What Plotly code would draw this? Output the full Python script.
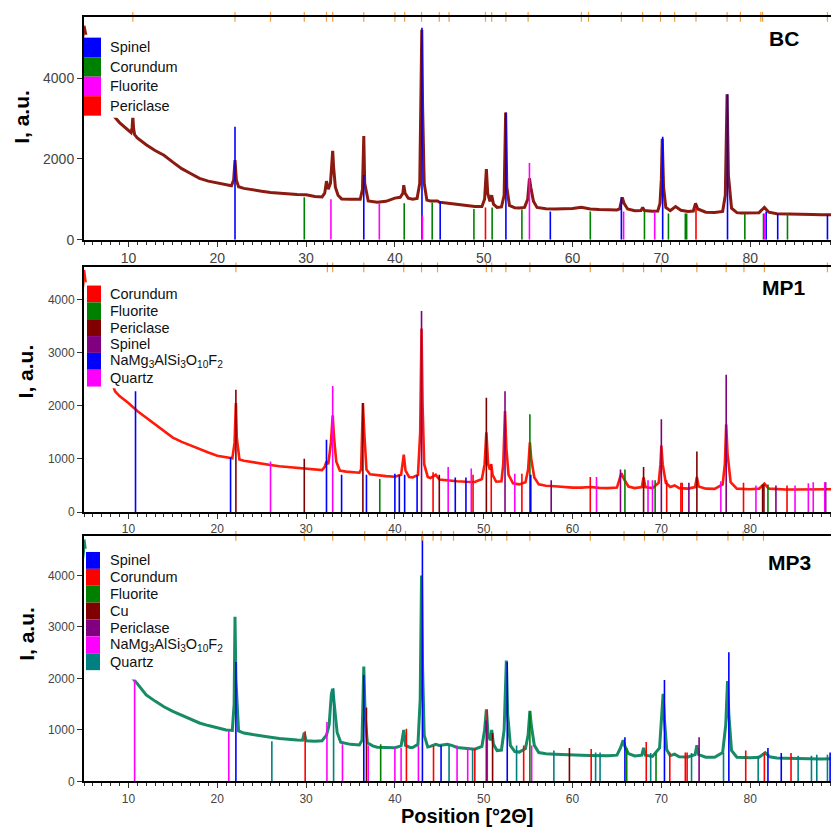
import plotly.graph_objects as go

W, H = 831, 835

# ---------------- DATA ----------------
bc_x = [5.0, 5.5, 6, 7, 8, 9, 10, 10.3, 10.42, 10.5, 10.58, 10.7, 11, 12, 13, 14, 15, 16, 17, 18, 19, 20, 21,
        21.6, 21.85, 22.0, 22.15, 22.4, 23, 24, 25, 26, 27, 28, 29, 30, 31,
        31.8, 32.1, 32.3, 32.5, 32.75, 32.9, 33.0, 33.1, 33.3, 33.6, 34.0, 35,
        36.1, 36.35, 36.5, 36.6, 36.9, 37, 38, 39, 40,
        40.6, 40.9, 41.0, 41.15, 41.5, 42,
        42.5, 42.8, 42.95, 43.03, 43.12, 43.3, 43.6, 44, 44.8, 45, 46, 47, 48, 49,
        49.8, 50.1, 50.3, 50.45, 50.7, 50.9, 51.1, 51.5,
        52.0, 52.3, 52.47, 52.6, 52.9, 53.5, 54,
        54.6, 54.95, 55.15, 55.3, 55.6, 56.0, 57, 58, 59, 60, 61, 62, 63, 64, 65,
        65.3, 65.5, 65.6, 65.8, 66.2, 67, 67.7, 67.9, 68.1, 69, 69.6,
        69.85, 70.0, 70.1, 70.25, 70.5, 71, 71.6, 72.2, 73,
        73.6, 73.85, 74.1, 75, 76, 76.9, 77.2, 77.4, 77.55, 77.9, 78.5, 79, 80, 81, 81.6, 82.1,
        83, 84, 85, 86, 87, 88, 89.1]
bc_y = [5300, 4700, 4200, 3600, 3150, 2900, 2700, 2650, 2780, 3050, 2760, 2600, 2520, 2350, 2210, 2090, 1920, 1760, 1640, 1520, 1450, 1400, 1350,
        1335, 1480, 1970, 1480, 1310, 1270, 1230, 1200, 1170, 1150, 1130, 1120, 1110, 1070,
        1060, 1150, 1450, 1250, 1400, 1800, 2200, 1800, 1300, 1100, 1010, 1000,
        1000, 1250, 2570, 1400, 1000, 960, 930, 950, 1030,
        1050, 1150, 1350, 1150, 1030, 1000,
        1020, 1400, 3500, 5200, 3300, 1400, 980, 960, 960, 930, 900, 870, 840, 820,
        820, 1000, 1750, 1150, 950, 1100, 880, 800,
        810, 1100, 3150, 1300, 850, 790, 785,
        800, 1000, 1520, 1300, 950, 800, 765, 760, 760, 770, 800, 760, 745, 740, 735,
        760, 1000, 1050, 900, 760, 715, 720, 800, 720, 705, 710,
        900, 1500, 2500, 1300, 800, 720, 820, 730, 700,
        710, 900, 760, 680, 675, 700, 1100, 3600, 1600, 780, 670, 662, 660, 670, 800, 680,
        645, 635, 630, 625, 622, 620, 615]

mp1_x = [5, 5.5, 6, 7, 8, 8.5, 9, 10, 11, 12, 13, 14, 15, 16, 17, 18, 19, 20, 21,
         21.7, 21.95, 22.1, 22.2, 22.5, 23, 24, 25, 26, 27, 28, 29, 30, 31,
         31.8, 32.1, 32.3, 32.5, 32.8, 33.0, 33.15, 33.4, 33.8, 34.5, 35, 36,
         36.2, 36.4, 36.55, 36.8, 37.2, 38, 39, 40, 40.7, 41.0, 41.2, 41.6, 42,
         42.6, 42.85, 43.0, 43.12, 43.3, 43.7, 44, 44.6, 45, 46, 47, 48, 49,
         49.8, 50.1, 50.3, 50.5, 50.7, 50.85, 51.0, 51.4, 52, 52.2, 52.4, 52.55, 52.8, 53.3, 54,
         54.7, 55.0, 55.2, 55.35, 55.7, 56.2, 57, 58, 59, 60, 61, 62, 63, 64, 65,
         65.3, 65.5, 65.8, 66.3, 67, 67.8, 68.0, 68.2, 69,
         69.7, 69.9, 70.0, 70.15, 70.5, 71, 71.5, 72, 73, 73.8, 74.0, 74.2, 75, 76,
         76.9, 77.15, 77.3, 77.45, 77.8, 78.5, 79, 80, 81, 81.6, 82.1, 83, 84, 85, 86, 87, 88, 89.1]
mp1_y = [4550, 3900, 3500, 2950, 2500, 2270, 2180, 2050, 1900, 1775, 1640, 1510, 1400, 1320, 1250, 1185, 1120, 1060, 1030,
         1010, 1300, 2050, 1400, 990, 965, 935, 905, 885, 860, 845, 825, 810, 795,
         790, 850, 950, 900, 1300, 1820, 1400, 950, 780, 760, 750, 740,
         800, 2050, 1500, 800, 710, 690, 675, 665, 700, 1080, 780, 660, 650,
         700, 1500, 3450, 2000, 900, 660, 640, 700, 610, 590, 580, 570, 565,
         620, 900, 1500, 900, 800, 900, 700, 570, 580, 900, 1900, 1200, 700, 540, 520,
         560, 800, 1310, 1000, 650, 520, 495, 485, 470, 460, 460, 470, 455, 450, 460,
         600, 730, 620, 480, 450, 470, 650, 470, 450,
         550, 900, 1250, 900, 550, 470, 500, 450, 440, 470, 660, 480, 440, 435,
         520, 900, 1650, 1100, 560, 440, 432, 428, 440, 535, 440, 430, 425, 425, 425, 425, 430, 430]

mp3_x = [5, 5.5, 6, 7, 8, 9, 10, 10.5, 11, 12, 13, 14, 15, 16, 17, 18, 19, 20, 21,
         21.7, 21.9, 22.0, 22.1, 22.4, 23, 24, 25, 26, 27, 28, 29, 29.6, 29.8, 30.0, 31,
         31.8, 32.1, 32.3, 32.6, 32.85, 33.0, 33.2, 33.5, 33.9, 35, 36,
         36.3, 36.5, 36.65, 36.9, 37.5, 38, 39, 40, 40.7, 41.0, 41.2, 41.7, 42,
         42.6, 42.85, 43.0, 43.12, 43.3, 43.7, 44, 44.6, 45, 45.9, 46.4, 47, 48, 49,
         49.8, 50.1, 50.3, 50.5, 50.75, 50.9, 51.1, 51.5, 52, 52.3, 52.55, 52.7, 53.0, 53.5, 54,
         54.7, 55.0, 55.2, 55.35, 55.7, 56.2, 57, 58, 59, 60, 61, 62, 63, 64, 65,
         65.4, 65.7, 65.9, 66.3, 67, 67.8, 68.0, 68.2, 69,
         69.8, 70.05, 70.2, 70.35, 70.6, 71, 71.5, 72, 73, 73.8, 74.0, 74.2, 75, 76,
         76.9, 77.25, 77.45, 77.6, 77.9, 78.5, 79, 80, 81, 81.7, 82.2, 83, 84, 85, 86, 87, 88, 89.1]
mp3_y = [4700, 4000, 3500, 2900, 2500, 2250, 2080, 2000, 1900, 1680, 1560, 1450, 1360, 1280, 1200, 1135, 1085, 1040, 1000,
         990, 1500, 3200, 2000, 980, 940, 910, 880, 860, 835, 815, 805, 800, 950, 790, 780,
         790, 850, 900, 1100, 1700, 1800, 1400, 950, 760, 720, 710,
         800, 2230, 1300, 750, 690, 665, 660, 655, 690, 1000, 700, 660, 660,
         720, 1600, 4000, 2200, 900, 670, 680, 720, 700, 720, 700, 660, 640, 625,
         680, 1000, 1400, 900, 800, 1000, 720, 600, 610, 1000, 2350, 1300, 700, 580, 570,
         640, 900, 1370, 1100, 700, 560, 540, 530, 520, 515, 510, 505, 500, 500, 510,
         650, 800, 680, 540, 495, 510, 650, 510, 485,
         650, 1200, 1700, 1200, 620, 500, 530, 480, 475, 520, 700, 520, 470, 470,
         560, 1100, 1950, 1300, 600, 470, 465, 460, 470, 560, 480, 455, 450, 445, 440, 440, 435, 440]

# Reference stick patterns (position, intensity) per phase
bc_phases = ["Spinel", "Corundum", "Fluorite", "Periclase"]
bc_colors = ["#0000ff", "#008000", "#ff00ff", "#ff0000"]
bc_stick_pos = [
    [22.0, 36.5, 43.05, 45.1, 52.5, 57.5, 65.5, 70.15, 77.45, 81.8, 83.1, 88.7],
    [29.8, 41.05, 44.2, 48.9, 50.95, 54.3, 62.0, 68.1, 70.8, 72.7, 72.85, 79.4, 81.5, 84.2],
    [32.8, 38.25, 43.1, 55.15, 65.75, 69.25, 81.65],
    [50.2, 73.9],
]
bc_stick_int = [
    [2800, 1600, 5250, 950, 3150, 700, 1050, 2550, 3600, 700, 650, 620],
    [1050, 900, 920, 760, 800, 750, 700, 700, 650, 650, 650, 650, 650, 650],
    [1000, 900, 600, 1900, 700, 700, 650],
    [800, 780],
]

mp1_phases = ["Corundum", "Fluorite", "Periclase", "Spinel", "NaMg<sub>3</sub>AlSi<sub>3</sub>O<sub>10</sub>F<sub>2</sub>", "Quartz"]
mp1_colors = ["#ff0000", "#008000", "#800000", "#800080", "#0000ff", "#ff00ff"]
mp1_stick_pos = [
    [44.3, 48.8, 50.85, 54.3, 62.0, 70.6, 72.2, 72.35, 79.25, 84.15],
    [38.3, 55.2, 65.9, 69.3, 82.0],
    [22.1, 29.8, 36.4, 45.0, 50.3, 68.0, 74.0, 81.4, 81.55],
    [43.0, 52.4, 57.6, 65.4, 70.0, 73.1, 77.3, 82.9, 88.5],
    [10.8, 21.5, 32.3, 34.0, 36.8, 40.0, 40.5, 41.1, 42.5, 46.8, 48.0, 55.3],
    [26.0, 33.0, 46.0, 48.6, 53.5, 62.7, 68.5, 69.0, 76.7, 80.65, 85.05, 86.55, 87.1, 88.4],
]
mp1_stick_int = [
    [750, 700, 905, 720, 660, 600, 550, 550, 550, 500],
    [620, 1840, 800, 600, 520],
    [2300, 1000, 2050, 700, 2150, 845, 1140, 520, 520],
    [3780, 2270, 600, 800, 1745, 550, 2580, 500, 560],
    [2270, 1030, 1360, 700, 700, 720, 700, 700, 690, 650, 650, 700],
    [950, 2370, 845, 820, 720, 660, 600, 600, 580, 500, 500, 540, 560, 560],
]

mp3_phases = ["Spinel", "Corundum", "Fluorite", "Cu", "Periclase", "NaMg<sub>3</sub>AlSi<sub>3</sub>O<sub>10</sub>F<sub>2</sub>", "Quartz"]
mp3_colors = ["#0000ff", "#ff0000", "#008000", "#800000", "#800080", "#ff00ff", "#008080"]
mp3_stick_pos = [
    [22.1, 36.5, 43.1, 45.2, 50.3, 52.65, 65.9, 70.35, 77.6, 82.0, 83.5, 89.0],
    [29.9, 41.3, 44.35, 49.0, 50.4, 54.5, 62.1, 68.3, 70.95, 72.7, 72.9, 79.5, 81.6, 84.6],
    [38.4, 55.2, 66.1, 69.4],
    [36.8, 51.0, 59.65],
    [74.25],
    [10.7, 21.3, 32.35, 34.1, 37.0, 40.0, 40.7, 42.65, 47.0, 48.2, 55.4],
    [26.15, 33.1, 46.1, 48.75, 53.7, 57.9, 62.6, 63.1, 68.8, 73.4, 77.0, 80.9, 85.4, 86.9, 87.5, 88.7],
]
mp3_stick_int = [
    [2320, 2065, 4780, 700, 1185, 2320, 860, 1970, 2510, 650, 550, 560],
    [975, 1025, 690, 640, 1390, 700, 630, 765, 560, 560, 560, 600, 560, 550],
    [720, 1370, 650, 550],
    [1435, 940, 650],
    [860],
    [1967, 975, 1155, 720, 700, 650, 650, 700, 700, 640, 700],
    [780, 1810, 700, 640, 700, 600, 560, 560, 550, 550, 550, 500, 500, 500, 520, 520],
]

# Peak-position markers along the top border of each panel
bc_peak_marks = [10.5, 22.0, 26.0, 29.8, 32.3, 33.0, 36.5, 40.0, 41.1, 43.0, 45.0, 46.1, 50.2, 50.9, 52.5,
                 55.0, 61.0, 61.8, 65.5, 67.9, 69.9, 71.5, 73.9, 77.4, 78.9, 81.2, 81.4, 88.7]
mp1_peak_marks = [22.1, 32.4, 33.0, 36.5, 41.0, 43.0, 44.8, 50.3, 50.9, 52.5, 55.2, 62.0, 65.7, 68.0,
                  70.0, 74.0, 77.3, 79.3, 81.6, 88.7]
mp3_peak_marks = [22.1, 29.8, 33.0, 36.6, 39.1, 41.2, 43.1, 44.3, 45.2, 46.6, 50.2, 50.9, 52.6, 55.2,
                  62.0, 65.8, 68.1, 70.2, 74.0, 77.5, 79.2, 81.5]

panel_names = ["BC", "MP1", "MP3"]
x_ticks = [10, 20, 30, 40, 50, 60, 70, 80]

# ---------------- LAYOUT / STYLE ----------------
X_RANGE = [5, 89.1]
LEFT_PX = 84
MARK_COLOR = "#f0a040"
panels = [
    dict(name=panel_names[0], x=bc_x, y=bc_y, color="#8b1a10", width=3.0, top=17, bottom=242, ymax=5520, dtick=2000, tfont=14,
         phases=bc_phases, colors=bc_colors, spos=bc_stick_pos, sint=bc_stick_int, marks=bc_peak_marks,
         leg_x=(84, 101), leg_top=38, leg_pitch=19.7, box=(84, 233, 35, 119), ytitle=(22, 118), label=(784, 39)),
    dict(name=panel_names[1], x=mp1_x, y=mp1_y, color="#ff1a0a", width=2.6, top=270, bottom=517, ymax=4600, dtick=1000, tfont=12,
         phases=mp1_phases, colors=mp1_colors, spos=mp1_stick_pos, sint=mp1_stick_int, marks=mp1_peak_marks,
         leg_x=(87, 101), leg_top=288.3, leg_pitch=17.0, box=(84, 226, 285, 392), ytitle=(25, 375), label=(784, 290)),
    dict(name=panel_names[2], x=mp3_x, y=mp3_y, color="#178a66", width=3.0, top=541, bottom=789, ymax=4770, dtick=1000, tfont=12,
         phases=mp3_phases, colors=mp3_colors, spos=mp3_stick_pos, sint=mp3_stick_int, marks=mp3_peak_marks,
         leg_x=(86, 100), leg_top=557.3, leg_pitch=17.05, box=(84, 226, 554, 686), ytitle=(27, 640), label=(789, 568)),
]

def px_x(p):
    return p / W

def px_y(p):
    return 1 - p / H

fig = go.Figure()
shapes = []
annotations = []
FONT = "Liberation Sans"

for i, pn in enumerate(panels, start=1):
    xa = "x" if i == 1 else f"x{i}"
    ya = "y" if i == 1 else f"y{i}"
    # observed profile
    fig.add_trace(go.Scatter(x=pn["x"], y=pn["y"], mode="lines", xaxis=xa, yaxis=ya,
                             line=dict(color=pn["color"], width=pn["width"]), showlegend=False,
                             hoverinfo="skip"))
    # stick patterns
    for pos, inten, col in zip(pn["spos"], pn["sint"], pn["colors"]):
        sx, sy = [], []
        for p, h in zip(pos, inten):
            sx += [p, p, None]
            sy += [0, h, None]
        fig.add_trace(go.Scatter(x=sx, y=sy, mode="lines", xaxis=xa, yaxis=ya,
                                 line=dict(color=col, width=1.6), showlegend=False, hoverinfo="skip"))
    # peak markers on the top border
    fig.add_trace(go.Scatter(x=pn["marks"], y=[pn["ymax"]] * len(pn["marks"]), mode="markers",
                             xaxis=xa, yaxis=ya, cliponaxis=False, showlegend=False, hoverinfo="skip",
                             marker=dict(symbol="line-ns-open", size=7, color=MARK_COLOR,
                                         line=dict(color=MARK_COLOR, width=1.2))))

    axis_common = dict(showline=True, linecolor="black", linewidth=2, ticks="outside", tickcolor="#333",
                       ticklen=5, tickwidth=1.2, showgrid=False, zeroline=False,
                       tickfont=dict(family=FONT, size=pn["tfont"], color="#444"))
    xkey = "xaxis" if i == 1 else f"xaxis{i}"
    ykey = "yaxis" if i == 1 else f"yaxis{i}"
    fig.layout[xkey] = dict(axis_common, range=X_RANGE, domain=[LEFT_PX / W, 1.0], anchor=ya,
                            tickvals=x_ticks, mirror=True,
                            minor=dict(dtick=1, tick0=0, ticks="outside", ticklen=3, tickcolor="#333", tickwidth=1))
    fig.layout[ykey] = dict(axis_common, range=[0, pn["ymax"]], domain=[px_y(pn["bottom"]), px_y(pn["top"])],
                            anchor=xa, dtick=pn["dtick"], tick0=0)

    # legend box (white) and colour squares
    bx0, bx1, by0, by1 = pn["box"]
    shapes.append(dict(type="rect", xref="paper", yref="paper", x0=px_x(bx0 + 1), x1=px_x(bx1),
                       y0=px_y(by1), y1=px_y(by0), fillcolor="white", line=dict(width=0), layer="above"))
    for k, (ph, col) in enumerate(zip(pn["phases"], pn["colors"])):
        t = pn["leg_top"] + k * pn["leg_pitch"]
        shapes.append(dict(type="rect", xref="paper", yref="paper",
                           x0=px_x(pn["leg_x"][0]), x1=px_x(pn["leg_x"][1]),
                           y0=px_y(t + pn["leg_pitch"]), y1=px_y(t),
                           fillcolor=col, line=dict(width=0), layer="above"))
        annotations.append(dict(text=ph, xref="paper", yref="paper", x=px_x(108),
                                y=px_y(t + pn["leg_pitch"] / 2), xanchor="left", yanchor="middle",
                                showarrow=False, font=dict(family=FONT, size=14.5, color="#111")))
    # y title
    annotations.append(dict(text="I, a.u.", xref="paper", yref="paper", x=px_x(pn["ytitle"][0]),
                            y=px_y(pn["ytitle"][1]), textangle=-90, showarrow=False,
                            xanchor="center", yanchor="middle",
                            font=dict(family=FONT, size=21, color="black", weight="bold")))
    # panel label
    annotations.append(dict(text=pn["name"], xref="paper", yref="paper", x=px_x(pn["label"][0]),
                            y=px_y(pn["label"][1]), showarrow=False, xanchor="center", yanchor="middle",
                            font=dict(family=FONT, size=21, color="black", weight="bold")))

annotations.append(dict(text="Position [°2Θ]", xref="paper", yref="paper", x=px_x(467), y=px_y(824),
                        showarrow=False, xanchor="center", yanchor="middle",
                        font=dict(family=FONT, size=20, color="black", weight="bold")))

fig.update_layout(width=W, height=H, margin=dict(l=0, r=0, t=0, b=0), paper_bgcolor="white",
                  plot_bgcolor="white", shapes=shapes, annotations=annotations, showlegend=False)

fig.write_html("out.html", config={"displayModeBar": False},
               post_script="document.body.style.margin='0';document.body.style.overflow='hidden';"
                           "document.documentElement.style.overflow='hidden';")
